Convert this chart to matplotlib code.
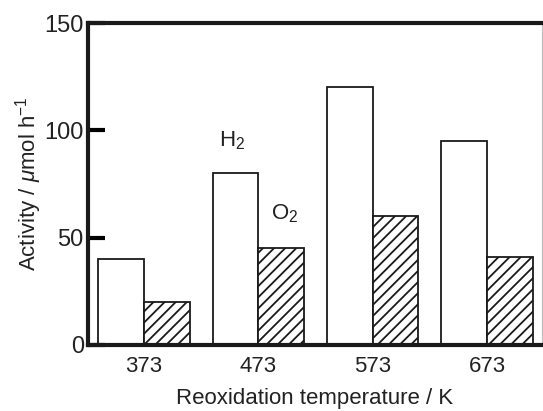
import numpy as np
import matplotlib
matplotlib.use("Agg")
import matplotlib.pyplot as plt

plt.rcParams['font.family'] = ['Liberation Sans', 'DejaVu Sans']
plt.rcParams['mathtext.fontset'] = 'custom'
plt.rcParams['mathtext.rm'] = 'Liberation Sans'
plt.rcParams['mathtext.it'] = 'Liberation Sans:italic'
plt.rcParams['hatch.linewidth'] = 1.3

temps = ["373", "473", "573", "673"]
h2_activity = [40, 80, 120, 95]
o2_activity = [20, 45, 60, 41]

x = np.arange(len(temps))
width = 0.4
text_color = "#222222"

fig = plt.figure(figsize=(5.43, 4.11), dpi=100)
ax = fig.add_axes([0.162, 0.161, 0.836, 0.783])

ax.bar(x - width / 2, h2_activity, width, color="white", edgecolor="#1a1a1a", linewidth=1.3)
ax.bar(x + width / 2, o2_activity, width, color="white", edgecolor="#1a1a1a", linewidth=1.3, hatch="///")

ax.text(0.77, 95, "H$_2$", fontsize=16, ha="center", va="center", color=text_color)
ax.text(1.23, 61, "O$_2$", fontsize=16, ha="center", va="center", color=text_color)

ax.set_xlim(-0.49, 3.48)
ax.set_ylim(0, 150)
ax.set_xticks(x)
ax.set_xticklabels(temps)
ax.set_yticks([0, 50, 100, 150])
ax.tick_params(axis="x", length=0, labelsize=16, pad=8, labelcolor=text_color)
ax.tick_params(axis="y", direction="in", length=12, width=3, labelsize=17, pad=3, labelcolor=text_color)

for side in ("left", "top", "bottom"):
    ax.spines[side].set_linewidth(3)
    ax.spines[side].set_color("#1a1a1a")
ax.spines["right"].set_linewidth(0.8)
ax.spines["right"].set_color("#bbbbbb")

ax.set_xlabel("Reoxidation temperature / K", fontsize=16, labelpad=8, color=text_color)
ax.set_ylabel("Activity / $\\mu$mol h$^{-1}$", fontsize=16, labelpad=0, color=text_color)

fig.savefig("out.png", dpi=100)
